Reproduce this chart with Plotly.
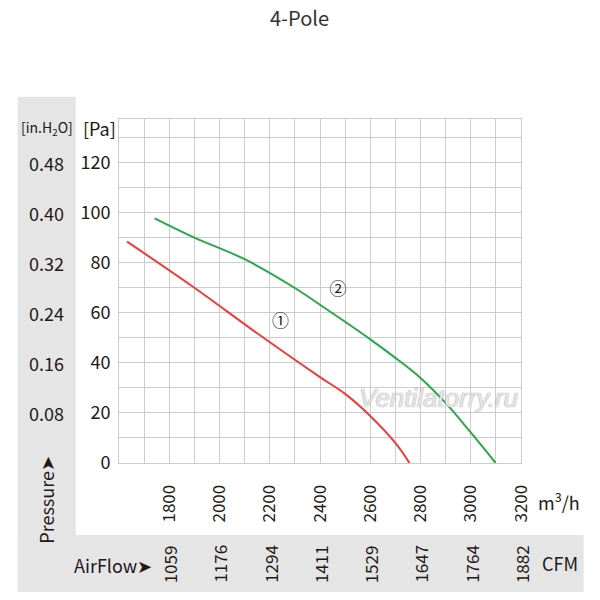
import plotly.graph_objects as go

# ---- data ----
red_flow = [1632, 1900, 2150, 2400, 2500, 2600, 2700, 2756]
red_pa = [88.4, 70.0, 51.8, 34.3, 27.6, 18.8, 8.0, 0]
green_flow = [1742, 1900, 2100, 2300, 2400, 2500, 2600, 2700, 2800, 2900, 3000, 3099]
green_pa = [97.7, 90.0, 81.4, 69.9, 63.2, 56.4, 49.4, 42.0, 34.0, 24.0, 12.2, 0]

x_ticks = [1800, 2000, 2200, 2400, 2600, 2800, 3000, 3200]
cfm_labels = ["1059", "1176", "1294", "1411", "1529", "1647", "1764", "1882"]
pa_ticks = [0, 20, 40, 60, 80, 100, 120]
inh2o_ticks = [20, 40, 60, 80, 100, 120]
inh2o_labels = ["0.08", "0.16", "0.24", "0.32", "0.40", "0.48"]

curve_labels = ["①", "②"]
curve_label_x = [2243, 2472]
curve_label_y = [55.9, 68.8]

# ---- geometry (reference pixels; page has an 8px body margin) ----
OFF = 8
W, H = 600 - OFF, 600 - OFF
L, R, T, B = 119.3, 521.3, 119.3, 463.0
FONT = "Noto Sans CJK SC, Noto Sans, sans-serif"
TXT = "#231815"
GREY = "#e5e5e5"
GRID = "#cccccc"


def px(x):
    return (x - L) / (R - L)


def py(y):
    return (B - y) / (B - T)


fig = go.Figure()
fig.add_trace(go.Scatter(x=red_flow, y=red_pa, mode="lines",
                         line=dict(color="#ee3d3a", width=2, shape="spline", smoothing=1.0),
                         showlegend=False, hoverinfo="skip"))
fig.add_trace(go.Scatter(x=green_flow, y=green_pa, mode="lines",
                         line=dict(color="#27a84a", width=2, shape="spline", smoothing=1.0),
                         showlegend=False, hoverinfo="skip"))
fig.add_trace(go.Scatter(x=curve_label_x, y=curve_label_y, mode="text", text=curve_labels,
                         textfont=dict(family=FONT, size=17, color=TXT),
                         showlegend=False, hoverinfo="skip"))

shapes = [
    dict(type="rect", xref="paper", yref="paper", x0=px(18), x1=px(76), y0=py(592), y1=py(97),
         fillcolor=GREY, line=dict(width=0), layer="below"),
    dict(type="rect", xref="paper", yref="paper", x0=px(18), x1=px(584), y0=py(592), y1=py(535),
         fillcolor=GREY, line=dict(width=0), layer="below"),
]


def A(text, x, y, size=18, xref="paper", yref="paper", angle=0, family=FONT, color=TXT, **kw):
    return dict(text=text, x=x, y=y, xref=xref, yref=yref, textangle=angle,
                xanchor="center", yanchor="middle", showarrow=False,
                font=dict(family=family, size=size, color=color, **kw))


ann = []
ann.append(A("4-Pole", px(300), py(18), size=20, color="#333333"))
ann.append(A("[in.H<sub>2</sub>O]", px(47), py(128), size=14))
ann.append(A("[Pa]", px(100), py(128), size=18))
for v, lab in zip(inh2o_ticks, inh2o_labels):
    ann.append(A(lab, px(47), v, yref="y"))
ann.append(A("Pressure➤", px(46), py(500), angle=-90))
ann.append(A("AirFlow➤", px(113), py(565)))
for v, lab in zip(x_ticks, cfm_labels):
    ann.append(A(lab, v, py(564), size=17, xref="x", angle=-90))
ann.append(A("m<sup>3</sup>/h", px(559), py(501)))
ann.append(A("CFM", px(560), py(563)))
ann.append(A("Ventilatorry.ru", 2870, 26, size=26, xref="x", yref="y",
             family="Liberation Sans, Arial, sans-serif", color="rgba(255,255,255,0.75)",
             style="italic", shadow="0px 0px 1px #909090, 0px 0px 1px #909090"))

fig.update_layout(
    width=W, height=H,
    margin=dict(l=L - OFF, r=W - (R - OFF), t=T - OFF, b=H - (B - OFF), pad=0),
    paper_bgcolor="white", plot_bgcolor="white",
    shapes=shapes, annotations=ann,
    xaxis=dict(range=[1600, 3200], tickvals=x_ticks, tickangle=-90,
               showgrid=True, gridcolor=GRID, gridwidth=1,
               minor=dict(dtick=100, tick0=1600, showgrid=True, gridcolor=GRID, gridwidth=1),
               zeroline=False, showline=True, linecolor=GRID, mirror=True,
               tickfont=dict(family=FONT, size=17, color=TXT), ticks="",
               ticklabelstandoff=14, fixedrange=True),
    yaxis=dict(range=[0, 137.4], tickvals=pa_ticks,
               showgrid=True, gridcolor=GRID, gridwidth=1,
               minor=dict(dtick=10, tick0=0, showgrid=True, gridcolor=GRID, gridwidth=1),
               zeroline=False, showline=True, linecolor=GRID, mirror=True,
               tickfont=dict(family=FONT, size=18, color=TXT), ticks="",
               ticklabelstandoff=4, fixedrange=True),
)

fig.write_html("out.html")
